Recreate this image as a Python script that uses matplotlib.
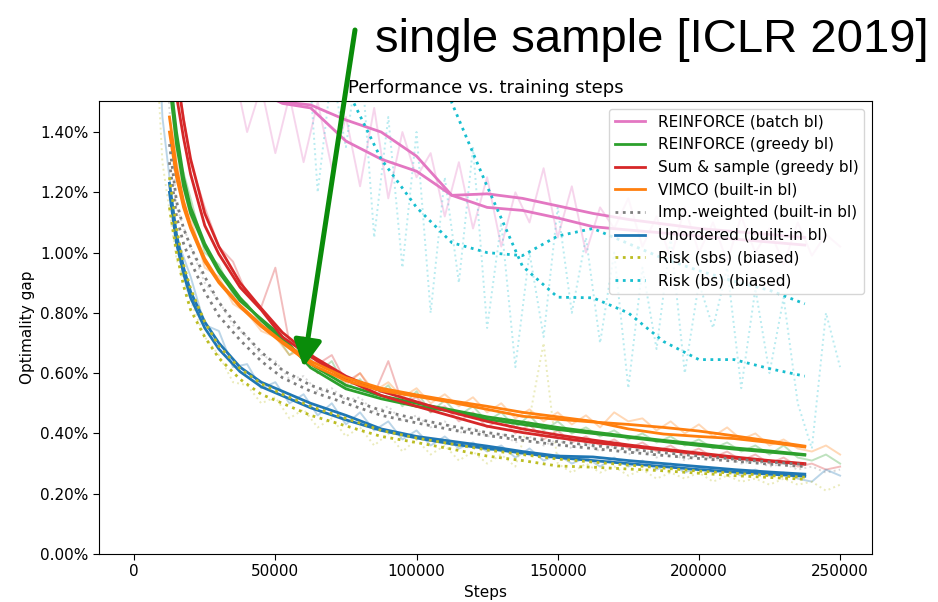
import numpy as np
import matplotlib.pyplot as plt
from matplotlib.ticker import FuncFormatter

# smoothed curves (two runs per method), values in percent
steps = [12500, 15000, 17500, 20000, 25000, 30000, 37500, 45000, 52500, 62500, 75000, 87500,
         100000, 112500, 125000, 137500, 150000, 162500, 175000, 187500, 200000, 212500, 225000, 237500]

pink_a = [2.2, 2.1, 2.0, 1.95, 1.85, 1.75, 1.62, 1.53, 1.495, 1.48, 1.37, 1.31,
          1.27, 1.19, 1.15, 1.14, 1.115, 1.086, 1.075, 1.065, 1.055, 1.045, 1.035, 1.025]
pink_b = [2.3, 2.2, 2.1, 2.0, 1.9, 1.8, 1.66, 1.56, 1.50, 1.49, 1.44, 1.40,
          1.32, 1.19, 1.195, 1.18, 1.155, 1.13, 1.11, 1.095, 1.08, 1.07, 1.06, 1.05]
green_a = [1.56, 1.36, 1.22, 1.13, 1.02, 0.935, 0.84, 0.78, 0.72, 0.618, 0.548, 0.515,
           0.49, 0.474, 0.447, 0.43, 0.413, 0.40, 0.387, 0.373, 0.36, 0.348, 0.338, 0.328]
green_b = [1.60, 1.40, 1.25, 1.15, 1.03, 0.945, 0.85, 0.775, 0.71, 0.63, 0.56, 0.525,
           0.50, 0.478, 0.455, 0.438, 0.42, 0.405, 0.39, 0.377, 0.365, 0.352, 0.342, 0.33]
red_a = [1.85, 1.52, 1.38, 1.26, 1.09, 0.995, 0.885, 0.81, 0.72, 0.655, 0.578, 0.526,
         0.49, 0.457, 0.424, 0.403, 0.386, 0.37, 0.358, 0.345, 0.332, 0.318, 0.308, 0.298]
red_b = [1.95, 1.60, 1.44, 1.31, 1.13, 1.02, 0.90, 0.815, 0.735, 0.66, 0.59, 0.54,
         0.505, 0.47, 0.44, 0.415, 0.395, 0.378, 0.362, 0.348, 0.335, 0.322, 0.31, 0.30]
orange_a = [1.40, 1.25, 1.15, 1.08, 0.97, 0.90, 0.82, 0.755, 0.70, 0.63, 0.575, 0.542,
            0.523, 0.503, 0.48, 0.457, 0.447, 0.438, 0.43, 0.42, 0.408, 0.392, 0.375, 0.358]
orange_b = [1.45, 1.28, 1.17, 1.09, 0.98, 0.905, 0.825, 0.76, 0.705, 0.64, 0.585, 0.55,
            0.528, 0.508, 0.49, 0.47, 0.455, 0.44, 0.415, 0.398, 0.39, 0.383, 0.37, 0.355]
gray_a = [1.36, 1.17, 1.08, 1.02, 0.92, 0.835, 0.745, 0.67, 0.61, 0.56, 0.518, 0.476,
          0.448, 0.424, 0.403, 0.386, 0.373, 0.36, 0.348, 0.336, 0.325, 0.315, 0.305, 0.297]
gray_b = [1.30, 1.12, 1.03, 0.97, 0.87, 0.79, 0.71, 0.64, 0.585, 0.54, 0.50, 0.46,
          0.435, 0.412, 0.393, 0.377, 0.362, 0.35, 0.338, 0.327, 0.317, 0.308, 0.298, 0.29]
blue_a = [1.23, 1.06, 0.95, 0.87, 0.77, 0.70, 0.62, 0.57, 0.54, 0.50, 0.46, 0.415,
          0.39, 0.374, 0.358, 0.34, 0.325, 0.322, 0.31, 0.30, 0.29, 0.28, 0.272, 0.265]
blue_b = [1.20, 1.03, 0.93, 0.85, 0.75, 0.68, 0.605, 0.555, 0.525, 0.485, 0.445, 0.41,
          0.385, 0.365, 0.35, 0.335, 0.32, 0.31, 0.30, 0.29, 0.28, 0.272, 0.265, 0.258]
olive_a = [1.15, 1.00, 0.89, 0.81, 0.72, 0.65, 0.58, 0.53, 0.50, 0.46, 0.425, 0.39,
           0.37, 0.348, 0.325, 0.31, 0.292, 0.288, 0.282, 0.276, 0.268, 0.26, 0.254, 0.248]
olive_b = [1.25, 1.08, 0.96, 0.88, 0.77, 0.69, 0.615, 0.565, 0.53, 0.49, 0.45, 0.41,
           0.385, 0.365, 0.345, 0.33, 0.315, 0.305, 0.295, 0.285, 0.275, 0.268, 0.26, 0.255]
cyan_a = [np.nan, np.nan, np.nan, np.nan, np.nan, np.nan, np.nan, np.nan, np.nan, 1.75, 1.55, 1.31,
          1.15, 1.033, 1.0, 0.99, 1.055, 1.08, 1.03, 0.98, 0.94, 0.905, 0.875, 0.83]
cyan_b = [np.nan, np.nan, np.nan, np.nan, np.nan, np.nan, np.nan, np.nan, np.nan, np.nan, np.nan, np.nan,
          2.2, 1.497, 1.22, 0.955, 0.852, 0.85, 0.80, 0.705, 0.645, 0.645, 0.615, 0.59]

# raw (unsmoothed) runs, every 5000 steps
raw_steps = np.arange(5000, 250001, 5000)
pink_raw = [3.5, 2.8, 2.4, 2.1, 1.9, 1.75, 1.62, 1.40, 1.55, 1.33, 1.52, 1.30, 1.50, 1.28, 1.45, 1.22,
            1.48, 1.18, 1.40, 1.25, 1.33, 1.12, 1.30, 1.08, 1.25, 1.02, 1.20, 1.10, 1.28, 1.05, 1.22, 1.00,
            1.15, 1.08, 1.18, 1.02, 1.12, 0.98, 1.15, 1.00, 1.10, 0.97, 1.12, 1.00, 1.08, 0.96, 1.10, 0.99,
            1.06, 1.02]
green_raw = [3.2, 2.0, 1.35, 1.18, 1.0, 0.96, 0.86, 0.83, 0.76, 0.73, 0.66, 0.70, 0.60, 0.64, 0.55, 0.58,
             0.52, 0.56, 0.49, 0.54, 0.47, 0.51, 0.46, 0.49, 0.44, 0.47, 0.42, 0.46, 0.41, 0.44, 0.40, 0.42,
             0.39, 0.41, 0.38, 0.40, 0.37, 0.39, 0.36, 0.38, 0.35, 0.37, 0.34, 0.36, 0.33, 0.36, 0.32, 0.31,
             0.33, 0.30]
red_raw = [3.5, 2.3, 1.6, 1.30, 1.15, 1.02, 0.97, 0.86, 0.82, 0.95, 0.70, 0.72, 0.63, 0.66, 0.57, 0.60,
           0.53, 0.64, 0.50, 0.52, 0.47, 0.49, 0.44, 0.47, 0.42, 0.45, 0.40, 0.43, 0.38, 0.41, 0.37, 0.39,
           0.36, 0.38, 0.35, 0.37, 0.34, 0.36, 0.33, 0.35, 0.32, 0.34, 0.31, 0.33, 0.30, 0.32, 0.29, 0.30,
           0.28, 0.29]
orange_raw = [3.0, 1.9, 1.3, 1.12, 0.95, 0.92, 0.83, 0.80, 0.74, 0.72, 0.66, 0.68, 0.60, 0.62, 0.56, 0.60,
              0.54, 0.57, 0.52, 0.55, 0.50, 0.53, 0.49, 0.52, 0.47, 0.50, 0.45, 0.48, 0.44, 0.47, 0.43, 0.46,
              0.42, 0.47, 0.44, 0.45, 0.41, 0.44, 0.40, 0.43, 0.39, 0.42, 0.38, 0.40, 0.36, 0.38, 0.35, 0.34,
              0.36, 0.33]
gray_raw = [3.0, 1.8, 1.15, 1.02, 0.90, 0.84, 0.76, 0.72, 0.66, 0.64, 0.58, 0.59, 0.54, 0.55, 0.51, 0.52,
            0.47, 0.49, 0.44, 0.46, 0.42, 0.44, 0.40, 0.42, 0.39, 0.40, 0.37, 0.39, 0.36, 0.38, 0.35, 0.37,
            0.34, 0.36, 0.33, 0.35, 0.32, 0.34, 0.31, 0.33, 0.31, 0.32, 0.30, 0.31, 0.29, 0.30, 0.28, 0.29,
            0.27, 0.28]
blue_raw = [2.5, 1.45, 1.05, 0.92, 0.76, 0.74, 0.62, 0.63, 0.55, 0.57, 0.50, 0.53, 0.46, 0.50, 0.43, 0.47,
            0.41, 0.44, 0.38, 0.41, 0.36, 0.39, 0.35, 0.37, 0.34, 0.36, 0.32, 0.35, 0.31, 0.33, 0.30, 0.32,
            0.29, 0.32, 0.29, 0.31, 0.28, 0.30, 0.27, 0.29, 0.27, 0.28, 0.26, 0.28, 0.26, 0.27, 0.25, 0.24,
            0.28, 0.26]
olive_raw = [2.2, 1.3, 0.98, 0.84, 0.72, 0.66, 0.57, 0.56, 0.50, 0.52, 0.45, 0.48, 0.42, 0.45, 0.39, 0.42,
             0.36, 0.40, 0.34, 0.38, 0.33, 0.36, 0.31, 0.34, 0.30, 0.33, 0.29, 0.45, 0.70, 0.30, 0.27, 0.30,
             0.27, 0.29, 0.26, 0.28, 0.25, 0.27, 0.25, 0.27, 0.24, 0.26, 0.24, 0.25, 0.23, 0.25, 0.23, 0.24,
             0.21, 0.23]
cyan_raw = [4.0, 3.6, 3.2, 2.9, 2.6, 2.4, 2.2, 2.0, 1.9, 1.75, 1.6, 1.9, 1.2, 1.6, 1.35, 1.7,
            1.05, 1.45, 0.95, 1.40, 0.80, 1.25, 0.90, 1.35, 0.75, 1.10, 0.62, 1.0, 0.72, 1.15, 0.80, 1.05,
            0.70, 1.0, 0.55, 0.95, 0.68, 1.05, 0.60, 0.90, 0.75, 0.95, 0.55, 0.88, 0.60, 0.85, 0.50, 0.35,
            0.80, 0.62]

methods = [
    ('REINFORCE (batch bl)', '#e377c2', '-', pink_a, pink_b, pink_raw),
    ('REINFORCE (greedy bl)', '#2ca02c', '-', green_a, green_b, green_raw),
    ('Sum & sample (greedy bl)', '#d62728', '-', red_a, red_b, red_raw),
    ('VIMCO (built-in bl)', '#ff7f0e', '-', orange_a, orange_b, orange_raw),
    ('Imp.-weighted (built-in bl)', '#7f7f7f', ':', gray_a, gray_b, gray_raw),
    ('Unordered (built-in bl)', '#1f77b4', '-', blue_a, blue_b, blue_raw),
    ('Risk (sbs) (biased)', '#bcbd22', ':', olive_a, olive_b, olive_raw),
    ('Risk (bs) (biased)', '#17becf', ':', cyan_a, cyan_b, cyan_raw),
]

fig = plt.figure(figsize=(9.38, 6.02), dpi=100)
ax = fig.add_axes([99/938, 48/602, 773/938, 453/602])

for label, c, ls, a, b, raw in methods:
    ax.plot(raw_steps, raw, color=c, ls=ls, lw=1.4, alpha=0.3)
for label, c, ls, a, b, raw in methods:
    ax.plot(steps, a, color=c, ls=ls, lw=2.0, label=label)
    ax.plot(steps, b, color=c, ls=ls, lw=2.0)

ax.set_xlim(-12450, 261300)
ax.set_ylim(0, 1.503)
ax.set_yticks(np.arange(0, 1.41, 0.2))
ax.yaxis.set_major_formatter(FuncFormatter(lambda v, p: '%.2f%%' % v))
ax.set_xticks(np.arange(0, 250001, 50000))
ax.tick_params(labelsize=11, length=4)
ax.set_xlabel('Steps', fontsize=11)
ax.set_ylabel('Optimality gap', fontsize=11)
ax.set_title('Performance vs. training steps', fontsize=13)
ax.legend(loc='upper right', fontsize=11)

fig.text(375/938, 1 - 52/602, 'single sample [ICLR 2019]', fontsize=34,
         family='Liberation Sans', ha='left', va='baseline')
ax.annotate('', xy=(60000, 0.62), xytext=(355/938, 1 - 30/602), textcoords='figure fraction',
            annotation_clip=False, zorder=10,
            arrowprops=dict(arrowstyle='-|>,head_length=0.8,head_width=0.42', mutation_scale=20,
                            color='#0a8c0a', lw=3.6, shrinkA=0, shrinkB=0))

fig.savefig('out.png', dpi=100)
